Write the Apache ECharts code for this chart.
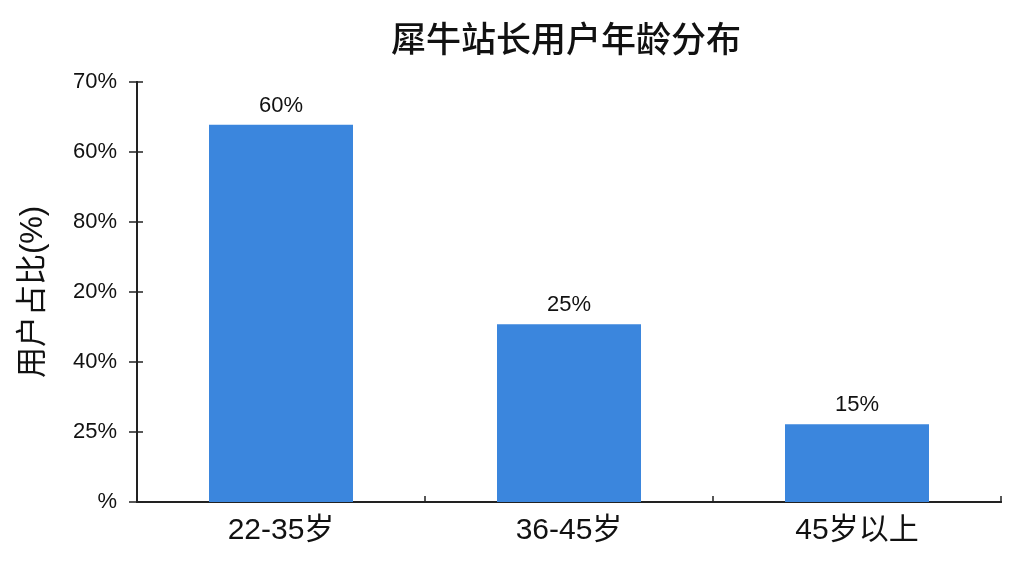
<!DOCTYPE html>
<html lang="zh">
<head>
    <meta charset="UTF-8">
    <title>犀牛站长用户年龄分布</title>
    <script src="https://cdn.jsdelivr.net/npm/echarts@6/dist/echarts.min.js"></script>
    <style>
        html, body { margin: 0; height: 100%; background: #fff; }
        #chart { width: 1024px; height: 576px; }
    </style>
</head>
<body>
<div id="chart"></div>
<script>
    // 数据（柱高按图中刻度读取，标签按图中文字）
    const categories = ['22-35岁', '36-45岁', '45岁以上'];
    const barHeights = [53.9, 25.4, 11.1];
    const barLabels = ['60%', '25%', '15%'];
    const yTickLabels = ['%', '25%', '40%', '20%', '80%', '60%', '70%'];

    const font = '"Liberation Sans", "Noto Sans CJK SC", sans-serif';
    const chart = echarts.init(document.getElementById('chart'));

    const lineStyle = { color: '#222', width: 2 };
    const tickStyle = { color: '#222', width: 1.5 };

    const option = {
        backgroundColor: '#fff',
        animation: false,
        title: {
            text: '犀牛站长用户年龄分布',
            left: 386,
            top: 20,
            textStyle: { fontFamily: font, fontSize: 35, fontWeight: 500, color: '#111' }
        },
        grid: { left: 137, right: 23, top: 82, bottom: 74 },
        xAxis: [
            {
                type: 'category',
                data: categories,
                axisLine: { lineStyle: lineStyle },
                axisTick: { alignWithLabel: true, length: 8, lineStyle: tickStyle },
                axisLabel: { fontFamily: font, fontSize: 30, color: '#111', margin: 14 }
            },
            {
                // 分类边界处朝内的小刻度
                type: 'category',
                data: categories,
                position: 'bottom',
                axisLine: { show: true, onZero: false, lineStyle: lineStyle },
                axisTick: { show: true, inside: true, length: 6, lineStyle: tickStyle },
                axisLabel: { show: false }
            }
        ],
        yAxis: [
            {
                type: 'value',
                min: 0,
                max: 60,
                interval: 10,
                name: '用户占比(%)',
                nameLocation: 'middle',
                nameGap: 88,
                nameRotate: 90,
                nameTextStyle: { fontFamily: font, fontSize: 31, color: '#111' },
                splitLine: { show: false },
                axisLine: { show: true, lineStyle: lineStyle },
                axisTick: { show: true, length: 8, lineStyle: tickStyle },
                axisLabel: {
                    fontFamily: font, fontSize: 22, color: '#111', margin: 20,
                    formatter: v => yTickLabels[Math.round(v / 10)]
                }
            },
            {
                // 刻度线穿过轴线，朝内的一半
                type: 'value',
                min: 0,
                max: 60,
                interval: 10,
                position: 'left',
                splitLine: { show: false },
                axisLine: { show: true, lineStyle: lineStyle },
                axisTick: { show: true, inside: true, length: 6, lineStyle: tickStyle },
                axisLabel: { show: false }
            }
        ],
        series: [
            {
                type: 'bar',
                data: barHeights,
                barWidth: '50%',
                itemStyle: { color: '#3b86dd' },
                label: {
                    show: true,
                    position: 'top',
                    distance: 8,
                    fontFamily: font,
                    fontSize: 22,
                    color: '#111',
                    formatter: p => barLabels[p.dataIndex]
                }
            }
        ]
    };

    chart.setOption(option);
</script>
</body>
</html>
